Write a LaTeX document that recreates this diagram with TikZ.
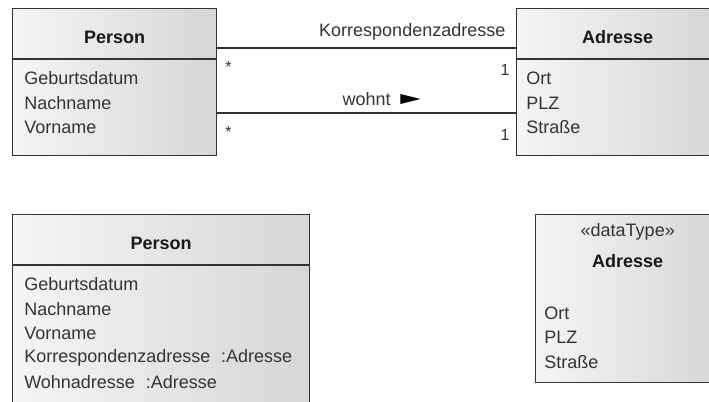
\documentclass[tikz,border=0pt]{standalone}
\usepackage{fontspec}
\setmainfont{Liberation Sans}
\usetikzlibrary{positioning,calc}

\begin{document}
\begin{tikzpicture}[
    x=0.75pt, y=-0.75pt,
    cls/.style={draw=black!80, line width=1.1pt, left color=black!4, right color=black!16, inner sep=0pt, anchor=north west},
    sep/.style={draw=black!80, line width=1.1pt},
    assoc/.style={draw=black!80, line width=1pt},
    txt/.style={font=\fontsize{13.5}{16}\selectfont, text=black!80, inner sep=0pt},
    hd/.style={txt, font=\fontsize{13.5}{16}\selectfont\bfseries, text=black!90},
    mult/.style={txt, font=\fontsize{12}{14}\selectfont},
]
\useasboundingbox (0,0) rectangle (709,401);
\clip (0,0) rectangle (709,401);
% class boxes
\node[cls, minimum width=153pt, minimum height=110.25pt] (perT) at (12,8) {};
\node[cls, minimum width=151.5pt, minimum height=110.25pt] (adrT) at (516,8) {};
\node[cls, minimum width=222.75pt, minimum height=150pt] (perB) at (12,214) {};
\node[cls, minimum width=138pt, minimum height=126pt] (adrB) at (535,214) {};
\coordinate (hT) at (0,59);
\coordinate (hB) at (0,265);
\draw[sep] (perT.west |- hT) -- (perT.east |- hT);
\draw[sep] (adrT.west |- hT) -- (adrT.east |- hT);
\draw[sep] (perB.west |- hB) -- (perB.east |- hB);
% names
\node[hd] (perTname) at ($(perT.north)+(0,29)$) {Person};
\node[hd] (adrTname) at ($(adrT.north)+(0,29)$) {Adresse};
\node[hd] (perBname) at ($(perB.north)+(0,29)$) {Person};
\node[txt] (adrBst) at ($(adrB.north)+(0,18)$) {«dataType»};
\node[hd] (adrBname) at ($(adrB.north)+(0,47)$) {Adresse};
% attributes
\foreach \t [count=\i] in {Geburtsdatum, Nachname, Vorname} {
  \node[txt, anchor=west] (perT-\i) at ($(perT.north west)+(12,46+24.5*\i)$) {\t};
}
\foreach \t [count=\i] in {Ort, PLZ, Straße} {
  \node[txt, anchor=west] (adrT-\i) at ($(adrT.north west)+(10,46+24.5*\i)$) {\t};
  \node[txt, anchor=west] (adrB-\i) at ($(adrB.north west)+(9,74.5+24.5*\i)$) {\t};
}
\foreach \t [count=\i] in {Geburtsdatum, Nachname, Vorname, Korrespondenzadresse\hspace{0.6em}:Adresse, Wohnadresse\hspace{0.6em}:Adresse} {
  \node[txt, anchor=west] (perB-\i) at ($(perB.north west)+(12,46+24.5*\i)$) {\t};
}
% associations
\coordinate (k) at (0,48);
\coordinate (w) at (0,113);
\draw[assoc] (perT.east |- k) -- (adrT.west |- k)
  node[txt, pos=1, anchor=south east, xshift=-7.5pt, yshift=5pt] (lblKorr) {Korrespondenzadresse};
\draw[assoc] (perT.east |- w) -- (adrT.west |- w)
  node[txt, midway, yshift=10.5pt] (lblWohnt) {wohnt};
\fill[black] ($(lblWohnt.east)+(9,-5)$) -- ($(lblWohnt.east)+(29,0)$) -- ($(lblWohnt.east)+(9,5)$) -- cycle;
\node[mult] (mK1) at ($(perT.east |- k)+(11,19)$) {*};
\node[mult] (mK2) at ($(adrT.west |- k)+(-11,22)$) {1};
\node[mult] (mW1) at ($(perT.east |- w)+(11,19)$) {*};
\node[mult] (mW2) at ($(adrT.west |- w)+(-11,22)$) {1};
\end{tikzpicture}
\end{document}
